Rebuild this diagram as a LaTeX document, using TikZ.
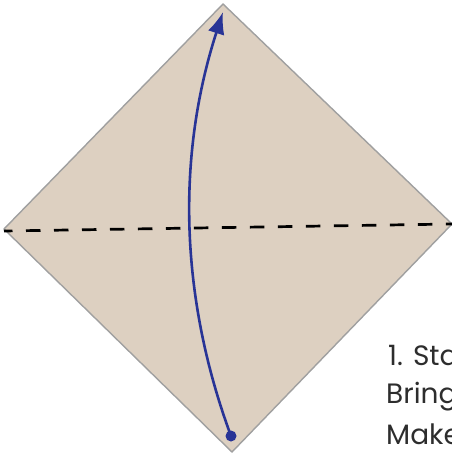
\documentclass[tikz,border=0pt]{standalone}
\usepackage{fontspec}
\setmainfont{Poppins}
\usetikzlibrary{arrows.meta}
\definecolor{paper}{RGB}{221,208,193}
\definecolor{edge}{RGB}{160,160,160}
\definecolor{arrowblue}{RGB}{40,52,150}
\definecolor{txt}{RGB}{45,45,45}
\tikzset{
  sheet/.style={fill=paper,draw=edge,line width=1.4pt,line join=miter},
  foldline/.style={draw=black,line width=2.7pt,dash pattern=on 14.5pt off 13.5pt,dash phase=6pt},
  movearrow/.style={draw=arrowblue,line width=2.6pt,-{Latex[length=22pt,width=17pt]}},
  stepline/.style={anchor=base west,inner sep=0pt,font=\fontsize{28pt}{30pt}\selectfont,text=txt},
}
\begin{document}
\begin{tikzpicture}[x=1pt,y=-1pt]
\useasboundingbox (0,0) rectangle (452,455);
\clip (0,0) rectangle (452,455);
\coordinate (top) at (223,4);
\coordinate (right) at (452,224);
\coordinate (bottom) at (232,452);
\coordinate (left) at (4,229);
\coordinate (fl) at (4,231);
\coordinate (fr) at (452,224);
\coordinate (start) at (231,436);
\coordinate (c1) at (179.3,296);
\coordinate (c2) at (176.7,155);
\coordinate (tip) at (223,12);
\path[sheet] (top) -- (right) -- (bottom) -- (left) -- cycle;
\draw[foldline] (fl) -- (fr);
\draw[movearrow] (start) .. controls (c1) and (c2) .. (tip);
\fill[arrowblue] (start) circle (5.5pt);
\node[stepline] (l1) at (388,365) {1. Sta};
\node[stepline] (l2) at (386,403) {Bring};
\node[stepline] (l3) at (386,444) {Make};
\end{tikzpicture}
\end{document}
